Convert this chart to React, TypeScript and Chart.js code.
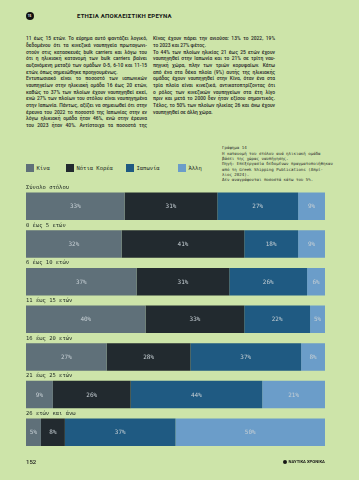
import React, { useEffect, useRef } from "react";
import { Chart, registerables } from "chart.js";
Chart.register(...registerables);

const categories = [
  "Σύνολο στόλου",
  "0 έως 5 ετών",
  "6 έως 10 ετών",
  "11 έως 15 ετών",
  "16 έως 20 ετών",
  "21 έως 25 ετών",
  "26 ετών και άνω",
];
const seriesNames = ["Κίνα", "Νότια Κορέα", "Ιαπωνία", "Άλλη"];
const china = [33, 32, 37, 40, 27, 9, 5];
const korea = [31, 41, 31, 33, 28, 26, 8];
const japan = [27, 18, 26, 22, 37, 44, 37];
const other = [9, 9, 6, 5, 8, 21, 50];
const seriesColors = ["#5f7079", "#222a2f", "#1f5a82", "#6b9dc9"];

const leftLines = [
  "11 έως 15 ετών. Το εύρημα αυτό φαντάζει λογικό,",
  "δεδομένου ότι τα κινεζικά ναυπηγεία πρωταγωνι-",
  "στούν στις κατασκευές bulk carriers και λόγω του",
  "ότι η ηλικιακή κατανομή των bulk carriers βαίνει",
  "αυξανόμενη μεταξύ των ομάδων 0-5, 6-10 και 11-15",
  "ετών, όπως σημειώθηκε προηγουμένως.",
  "Εντυπωσιακό είναι το ποσοστό των ιαπωνικών",
  "ναυπηγείων στην ηλικιακή ομάδα 16 έως 20 ετών,",
  "καθώς το 37% των πλοίων έχουν ναυπηγηθεί εκεί,",
  "ενώ 27% των πλοίων του στόλου είναι ναυπηγημένα",
  "στην Ιαπωνία. Πάντως, αξίζει να σημειωθεί ότι στην",
  "έρευνα του 2022 το ποσοστό της Ιαπωνίας στην εν",
  "λόγω ηλικιακή ομάδα ήταν 46%, ενώ στην έρευνα",
  "του 2023 ήταν 40%. Αντίστοιχα τα ποσοστά της",
];
const leftEnds = [5];
const rightLines = [
  "Κίνας έχουν πάρει την ανιούσα: 13% το 2022, 19%",
  "το 2023 και 27% φέτος.",
  "Το 44% των πλοίων ηλικίας 21 έως 25 ετών έχουν",
  "ναυπηγηθεί στην Ιαπωνία και το 21% σε τρίτη ναυ-",
  "πηγική χώρα, πλην των τριών κορυφαίων. Κάτω",
  "από ένα στα δέκα πλοία (9%) αυτής της ηλικιακής",
  "ομάδας έχουν ναυπηγηθεί στην Κίνα, όταν ένα στα",
  "τρία πλοία είναι κινεζικά, αντικατοπτρίζοντας ότι",
  "ο ρόλος των κινεζικών ναυπηγείων στα έτη λίγο",
  "πριν και μετά το 2000 δεν ήταν εξίσου σημαντικός.",
  "Τέλος, το 50% των πλοίων ηλικίας 26 και άνω έχουν",
  "ναυπηγηθεί σε άλλη χώρα.",
];
const rightEnds = [1, 11];
const noteLines = [
  "Η κατανομή του στόλου ανά ηλικιακή ομάδα",
  "βάσει της χώρας ναυπήγησης.",
  "Πηγή: Επεξεργασία δεδομένων πραγματοποιήθηκαν",
  "από τη Greek Shipping Publications (Απρί-",
  "λιος 2024).",
  "Δεν αναγράφονται ποσοστά κάτω του 5%.",
];

const MONO = "'DejaVu Sans Mono', monospace";
const BG = "#cde4a9";

const labelPlugin = {
  id: "barLabels",
  afterDatasetsDraw(chart: any) {
    const ctx = chart.ctx;
    ctx.save();
    ctx.textBaseline = "middle";
    ctx.textAlign = "center";
    ctx.font = `6px ${MONO}`;
    ctx.fillStyle = "#c6cfd4";
    chart.data.datasets.forEach((ds: any, di: number) => {
      const meta = chart.getDatasetMeta(di);
      meta.data.forEach((el: any, i: number) => {
        const v = ds.data[i];
        if (v < 5) return;
        const p = el.getProps(["x", "base", "y"], true);
        ctx.fillText(v + "%", (p.x + p.base) / 2, p.y + 0.5);
      });
    });
    ctx.textAlign = "left";
    ctx.font = `5.5px ${MONO}`;
    ctx.fillStyle = "#1f2a24";
    const meta0 = chart.getDatasetMeta(0);
    meta0.data.forEach((el: any, i: number) => {
      const p = el.getProps(["y", "height"], true);
      ctx.fillText(categories[i], chart.chartArea.left, p.y - p.height / 2 - 5);
    });
    ctx.restore();
  },
};

function TextLine({ text, left, cy, width, justify, size, lh, family, weight, color, spacing }: any) {
  return (
    <div
      style={{
        position: "absolute",
        left,
        top: cy - lh / 2,
        width,
        height: lh,
        lineHeight: lh + "px",
        fontSize: size,
        fontFamily: family,
        fontWeight: weight,
        color,
        letterSpacing: spacing || 0,
        textAlign: justify ? "justify" : "left",
        textAlignLast: justify ? "justify" : "left",
        whiteSpace: justify ? "normal" : "nowrap",
        overflow: "visible",
      } as any}
    >
      {text}
    </div>
  );
}

export default function App() {
  const ref = useRef<HTMLCanvasElement>(null);
  useEffect(() => {
    const data = [china, korea, japan, other];
    const chart = new Chart(ref.current as HTMLCanvasElement, {
      type: "bar",
      data: {
        labels: categories,
        datasets: seriesNames.map((n, i) => ({
          label: n,
          data: data[i],
          backgroundColor: seriesColors[i],
          borderWidth: 0,
          barPercentage: 0.73,
          categoryPercentage: 1,
        })),
      },
      options: {
        indexAxis: "y",
        responsive: false,
        animation: false,
        devicePixelRatio: 1,
        layout: { padding: { left: 26, right: 34, top: 187.5, bottom: 28.9 } },
        scales: {
          x: { stacked: true, min: 0, max: 100, display: false },
          y: { stacked: true, display: false },
        },
        plugins: { legend: { display: false }, tooltip: { enabled: false } },
      },
      plugins: [labelPlugin],
    } as any);
    return () => chart.destroy();
  }, []);

  const bodyFont = "Roboto, 'Liberation Sans', sans-serif";
  const legendX = [26, 66, 126, 178];

  return (
    <div
      style={{
        position: "absolute",
        left: 0,
        top: 0,
        width: 359,
        height: 480,
        background: BG,
        overflow: "hidden",
      }}
    >
      {/* header */}
      <div
        style={{
          position: "absolute",
          left: 25.5,
          top: 11.5,
          width: 8,
          height: 8,
          borderRadius: 4,
          background: "#111",
          color: "#fff",
          fontSize: 3,
          lineHeight: "8px",
          textAlign: "center",
          fontFamily: bodyFont,
          fontWeight: 700,
        }}
      >
        15
      </div>
      <TextLine text="ΕΤΗΣΙΑ ΑΠΟΚΛΕΙΣΤΙΚΗ ΕΡΕΥΝΑ" left={77} cy={16} lh={8} size={6} spacing={0.25} family={bodyFont} weight={700} color="#151515" />

      {leftLines.map((t, i) => (
        <TextLine key={"l" + i} text={t} left={26} cy={38.5 + i * 6.67} width={121} justify={!leftEnds.includes(i)} size={4.9} lh={6.67} family={bodyFont} weight={500} color="#262626" />
      ))}
      {rightLines.map((t, i) => (
        <TextLine key={"r" + i} text={t} left={153} cy={38.5 + i * 6.67} width={122} justify={!rightEnds.includes(i)} size={4.9} lh={6.67} family={bodyFont} weight={500} color="#262626" />
      ))}

      {/* note */}
      <TextLine text="Γράφημα 14" left={222} cy={147.5} lh={5} size={4.1} family={MONO} weight={400} color="#2b2b2b" />
      {noteLines.map((t, i) => (
        <TextLine key={"n" + i} text={t} left={222} cy={153.5 + i * 5.3} lh={5.3} size={4.1} family={MONO} weight={400} color="#2b2b2b" />
      ))}

      {/* legend */}
      {seriesNames.map((n, i) => (
        <React.Fragment key={"lg" + i}>
          <div style={{ position: "absolute", left: legendX[i], top: 164, width: 7.5, height: 7.5, background: seriesColors[i] }} />
          <TextLine text={n} left={legendX[i] + 10.5} cy={168} lh={7} size={5.5} family={MONO} weight={400} color="#1f2a24" />
        </React.Fragment>
      ))}

      <canvas ref={ref} width={359} height={480} style={{ position: "absolute", left: 0, top: 0, width: 359, height: 480 }} />

      {/* footer */}
      <TextLine text="152" left={26} cy={462} lh={8} size={6} family={bodyFont} weight={500} color="#1a1a1a" />
      <div style={{ position: "absolute", left: 283, top: 460, width: 4, height: 4, borderRadius: 2, background: "#151515" }} />
      <TextLine text="ΝΑΥΤΙΚΑ ΧΡΟΝΙΚΑ" left={288.5} cy={462} lh={6} size={4.2} family={bodyFont} weight={700} color="#151515" />
    </div>
  );
}
